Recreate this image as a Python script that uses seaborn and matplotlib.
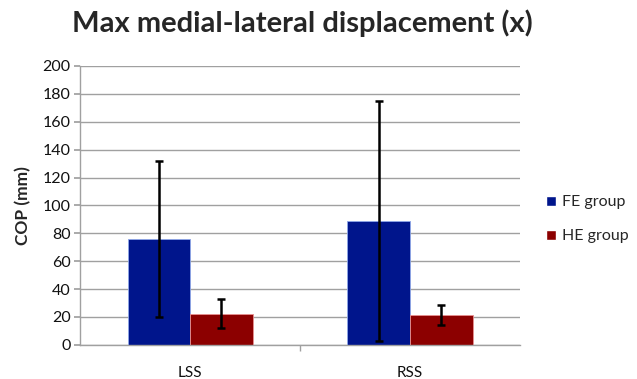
import matplotlib
matplotlib.use("Agg")
import matplotlib.pyplot as plt
import seaborn as sns
import pandas as pd
import numpy as np

# Mean COP displacement and standard deviation per stance and group
conditions = ["LSS", "RSS"]
groups = ["FE group", "HE group"]
fe_means = [76, 89]
fe_sd = [56, 86]
he_means = [22.5, 21.5]
he_sd = [10.5, 7]
yticks = [0, 20, 40, 60, 80, 100, 120, 140, 160, 180, 200]

colors = {"FE group": "#00158C", "HE group": "#8C0000"}

df = pd.DataFrame({
    "condition": conditions * 2,
    "group": [groups[0]] * 2 + [groups[1]] * 2,
    "value": fe_means + he_means,
    "sd": fe_sd + he_sd,
})

sns.set_theme(style="white")
plt.rcParams["font.family"] = ["Lato", "DejaVu Sans"]

fig = plt.figure(figsize=(6.37, 3.79), dpi=100)
ax = fig.add_axes([0.126, 0.09, 0.69, 0.736])

sns.barplot(data=df, x="condition", y="value", hue="group", order=conditions,
            hue_order=groups, palette=colors, width=0.57, errorbar=None,
            saturation=1, ax=ax, zorder=2)

# Error bars centred on each drawn bar
for bar, (_, row) in zip(ax.patches, df.iterrows()):
    bar.set_edgecolor("#8FA8E8" if row["group"] == "FE group" else "#E89090")
    bar.set_linewidth(0.6)
    xc = bar.get_x() + bar.get_width() / 2
    ax.errorbar(xc, bar.get_height(), yerr=row["sd"], fmt="none",
                ecolor="black", elinewidth=1.8, capsize=3, capthick=1.8,
                zorder=3)

ax.set_ylim(0, 200)
ax.set_xlim(-0.5, 1.5)
ax.set_yticks(yticks)
ax.set_yticklabels([str(t) for t in yticks], fontsize=11.5, color="#111111")
ax.yaxis.grid(True, color="#A0A0A0", linewidth=1.0)
ax.set_axisbelow(True)
for side in ["top", "right"]:
    ax.spines[side].set_visible(False)
for side in ["left", "bottom"]:
    ax.spines[side].set_color("#A0A0A0")
    ax.spines[side].set_linewidth(1.0)
ax.tick_params(axis="y", left=True, length=4, color="#A0A0A0", pad=3)
ax.set_xticks([0, 1])
ax.set_xticklabels(conditions, fontsize=11, color="#111111")
ax.tick_params(axis="x", bottom=False, pad=9)
ax.set_xticks([0.5], minor=True)
ax.tick_params(axis="x", which="minor", bottom=True, length=4, color="#A0A0A0")

ax.set_xlabel("")
ax.set_ylabel("COP (mm)", fontsize=12.5, fontweight="bold", labelpad=8)

fig.suptitle("Max medial-lateral displacement (x)", fontsize=21,
             fontweight="bold", x=0.474, y=0.975)

leg = ax.legend(loc="center left", bbox_to_anchor=(1.035, 0.45), frameon=False,
                fontsize=11.5, handlelength=0.6, handleheight=0.6,
                handletextpad=0.35, labelspacing=1.25, borderpad=0.2)

fig.savefig("out.png", dpi=100)
